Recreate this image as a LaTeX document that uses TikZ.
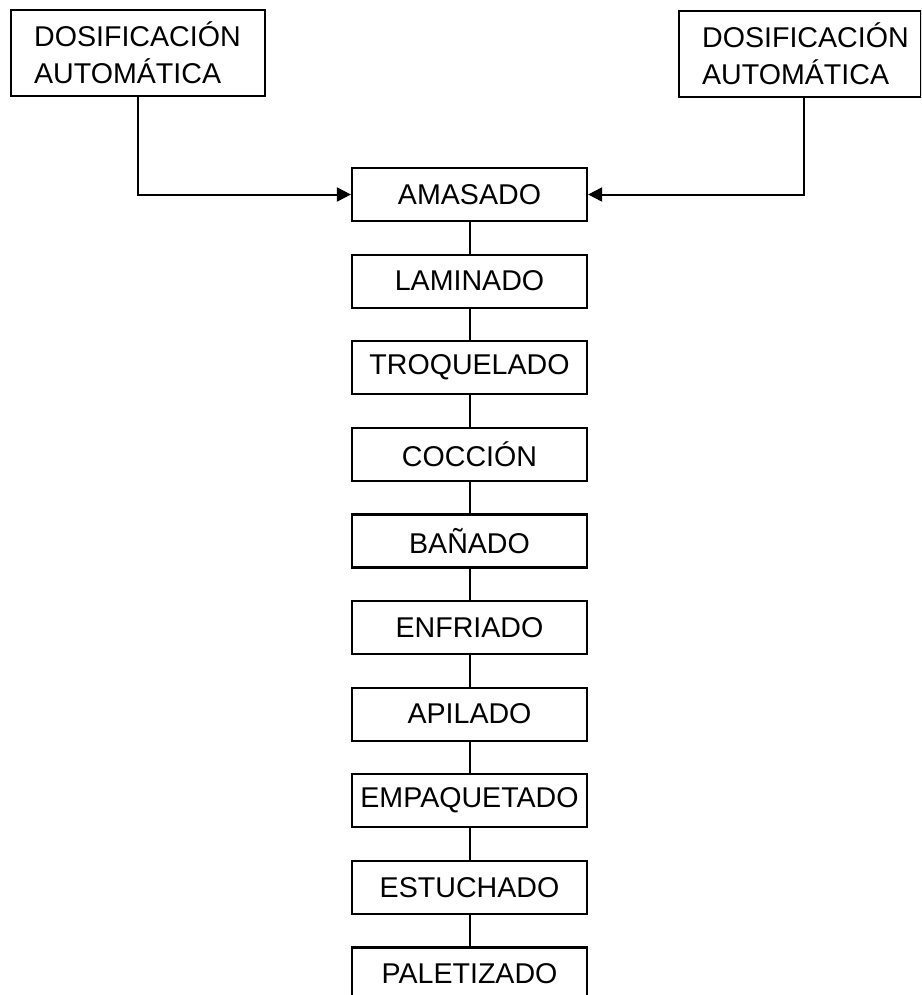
\documentclass[tikz,border=0pt]{standalone}
\usepackage{fontspec}
\setmainfont{Liberation Sans}
\usepackage{tikz}
\usetikzlibrary{positioning,arrows.meta}

\begin{document}
\begin{tikzpicture}[x=0.5pt, y=-0.5pt, node distance=15.7pt,
    font=\fontsize{14.3}{18.5}\selectfont,
    stage/.style={draw, line width=1.1pt, minimum width=117.5pt, minimum height=26.5pt, inner sep=2pt},
    dosbox/.style={draw, line width=1.1pt, align=left, text width=104pt, inner xsep=11.5pt, inner ysep=6pt, minimum height=42pt, anchor=north west},
    link/.style={line width=1pt},
    feed/.style={line width=1pt, -{Triangle[length=7pt, width=7pt]}}]
    \clip (0,0) rectangle (921,995);

    \node[dosbox] (dosL) at (10,9) {DOSIFICACIÓN\\AUTOMÁTICA};
    \node[dosbox, text width=98pt] (dosR) at (678,10) {DOSIFICACIÓN\\AUTOMÁTICA};

    \node[stage] (amasado) at (469.5,194.5) {AMASADO};
    \node[stage, below=of amasado] (laminado) {LAMINADO};
    \node[stage, below=of laminado] (troquelado) {TROQUELADO};
    \node[stage, below=of troquelado] (coccion) {COCCIÓN};
    \node[stage, below=of coccion] (banado) {BAÑADO};
    \node[stage, below=of banado] (enfriado) {ENFRIADO};
    \node[stage, below=of enfriado] (apilado) {APILADO};
    \node[stage, below=of apilado] (empaquetado) {EMPAQUETADO};
    \node[stage, below=of empaquetado] (estuchado) {ESTUCHADO};
    \node[stage, below=of estuchado] (paletizado) {PALETIZADO};

    \draw[feed] (dosL.south) |- (amasado.west);
    \draw[feed] ([xshift=2pt]dosR.south) |- (amasado.east);

    \draw[link] (amasado) -- (laminado);
    \draw[link] (laminado) -- (troquelado);
    \draw[link] (troquelado) -- (coccion);
    \draw[link] (coccion) -- (banado);
    \draw[link] (banado) -- (enfriado);
    \draw[link] (enfriado) -- (apilado);
    \draw[link] (apilado) -- (empaquetado);
    \draw[link] (empaquetado) -- (estuchado);
    \draw[link] (estuchado) -- (paletizado);
\end{tikzpicture}
\end{document}
